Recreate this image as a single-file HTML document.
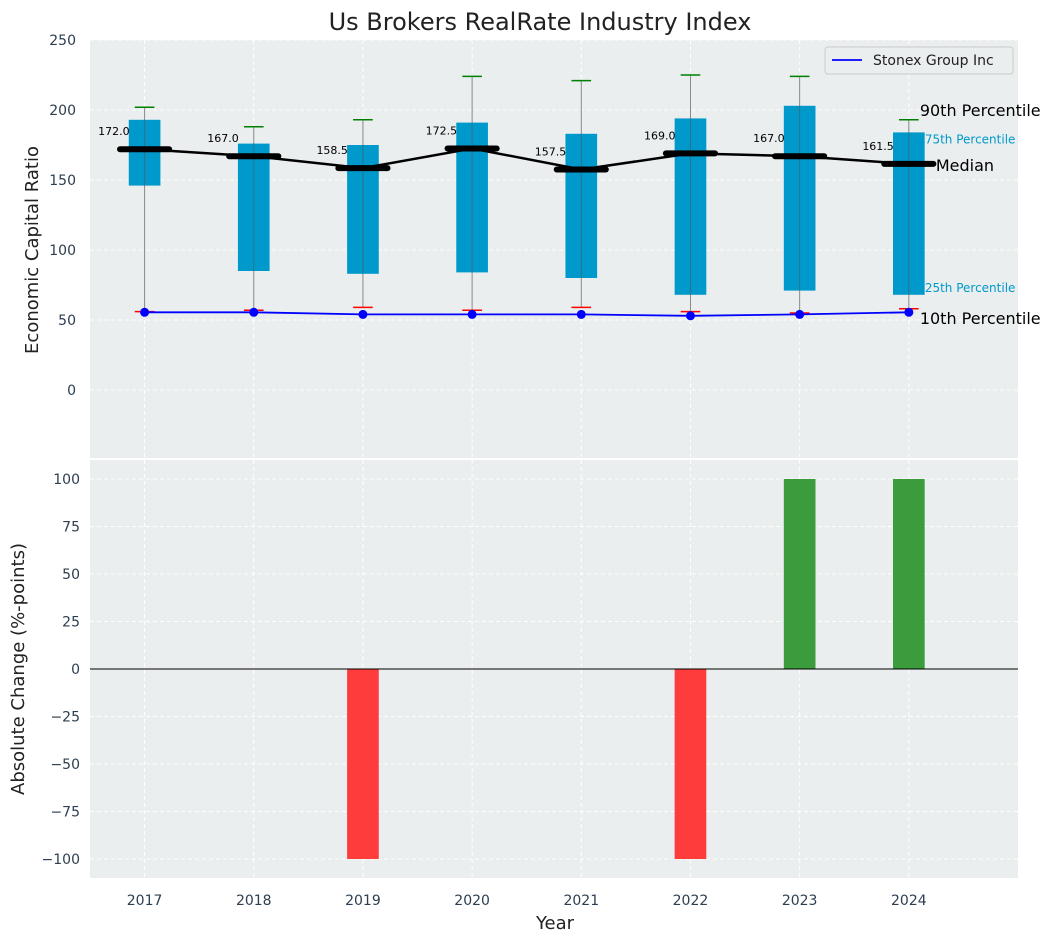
<!DOCTYPE html>
<html><head><meta charset="utf-8"><style>
body{margin:0;background:#fff;font-family:"Liberation Sans","DejaVu Sans",sans-serif}
</style></head><body>
<svg id="c" width="1057" height="942" xmlns="http://www.w3.org/2000/svg" font-family="DejaVu Sans, Liberation Sans, sans-serif">
<text x="540" y="30" font-size="24" text-anchor="middle" fill="#222">Us Brokers RealRate Industry Index</text>
<g id="topg"></g><g id="botg"></g>
</svg>
<script>
const years=[2017,2018,2019,2020,2021,2022,2023,2024];
const p25=[146,85,83,84,80,68,71,68];
const p75=[193,176,175,191,183,194,203,184];
const p90=[202,188,193,224,221,225,224,193];
const p10=[56,57,59,57,59,56,55,58];
const medians=[172,167,158.5,172.5,157.5,169,167,161.5];
const company=[55.5,55.5,54,54,54,53,54,55.5];
const changes=[0,0,-100,0,0,-100,100,100];
const topTicks=[0,50,100,150,200,250];
const botTicks=[-100,-75,-50,-25,0,25,50,75,100];

const NS="http://www.w3.org/2000/svg";
const X0=90,X1=1018;
const x=v=>X0+(v-2016.5)/(2025-2016.5)*(X1-X0);
const yT=v=>390-v*1.4;
const yB=v=>669-v*1.9;
function el(p,t,a,txt){const e=document.createElementNS(NS,t);for(const k in a)e.setAttribute(k,a[k]);if(txt!=null)e.textContent=txt;p.appendChild(e);return e;}
const fmt=v=>String(v).replace('-','\u2212');
const gTop=document.getElementById('topg'),gBot=document.getElementById('botg');
let r=el(gTop,'rect',{x:X0,y:40,width:X1-X0,height:418,fill:'#eaeeee'});


r=el(gBot,'rect',{x:X0,y:460,width:X1-X0,height:418,fill:'#eaeeee'});


years.forEach(yr=>{
 el(gTop,'line',{x1:x(yr),x2:x(yr),y1:40,y2:458,stroke:'#fff','stroke-dasharray':'4,3'});
 el(gBot,'line',{x1:x(yr),x2:x(yr),y1:460,y2:878,stroke:'#fff','stroke-dasharray':'4,3'});
 let t=el(gBot,'text',{x:x(yr),y:905,'font-size':14,'text-anchor':'middle',fill:'#2c3e50'},yr);
 
 
});
topTicks.forEach(v=>{
 el(gTop,'line',{x1:X0,x2:X1,y1:yT(v),y2:yT(v),stroke:'#fff','stroke-dasharray':'4,3'});
 let t=el(gTop,'text',{x:76,y:yT(v)+5,'font-size':14,'text-anchor':'end',fill:'#2c3e50'},fmt(v));
 
 
});
botTicks.forEach(v=>{
 el(gBot,'line',{x1:X0,x2:X1,y1:yB(v),y2:yB(v),stroke:'#fff','stroke-dasharray':'4,3'});
 let t=el(gBot,'text',{x:80,y:yB(v)+5,'font-size':14,'text-anchor':'end',fill:'#2c3e50'},fmt(v));
 
 
});
const bw=(X1-X0)/8.5*0.29, cw=(X1-X0)/8.5*0.18, mw=(X1-X0)/8.5*0.45;
years.forEach((yr,i)=>{
 const cx=x(yr);
 el(gTop,'line',{x1:cx,x2:cx,y1:yT(p90[i]),y2:yT(p10[i]),stroke:'#888','stroke-width':1});
 let b=el(gTop,'rect',{x:cx-bw/2,y:yT(p75[i]),width:bw,height:yT(p25[i])-yT(p75[i]),fill:'#0099cc'});
 
 
 el(gTop,'line',{x1:cx,x2:cx,y1:yT(p75[i]),y2:yT(p25[i]),stroke:'#555','stroke-width':1,opacity:0.6});
 el(gTop,'line',{x1:cx-cw/2,x2:cx+cw/2,y1:yT(p90[i]),y2:yT(p90[i]),stroke:'green','stroke-width':1.5});
 el(gTop,'line',{x1:cx-cw/2,x2:cx+cw/2,y1:yT(p10[i]),y2:yT(p10[i]),stroke:'red','stroke-width':1.5});
 let m=el(gTop,'line',{x1:cx-mw/2,x2:cx+mw/2,y1:yT(medians[i]),y2:yT(medians[i]),stroke:'#000','stroke-width':6,'stroke-linecap':'round'});
 
 
 let t=el(gTop,'text',{x:cx-15,y:yT(medians[i])-14,'font-size':11,'text-anchor':'end',fill:'#000'},medians[i].toFixed(1));
 
 
 let bar=el(gBot,'rect',{x:cx-bw/2,y:Math.min(yB(0),yB(changes[i])),width:bw,height:Math.abs(yB(changes[i])-yB(0)),fill:changes[i]>=0?'#3a9c3a':'#ff3c3c'});
 
 
});
let ml=el(gTop,'polyline',{points:years.map((yr,i)=>x(yr)+','+yT(medians[i])).join(' '),fill:'none',stroke:'#000','stroke-width':2.5});


let cl=el(gTop,'polyline',{points:years.map((yr,i)=>x(yr)+','+yT(company[i])).join(' '),fill:'none',stroke:'blue','stroke-width':1.8});


years.forEach((yr,i)=>{let c=el(gTop,'circle',{cx:x(yr),cy:yT(company[i]),r:4.5,fill:'blue'});
 
 });
el(gBot,'line',{x1:X0,x2:X1,y1:yB(0),y2:yB(0),stroke:'#000','stroke-width':1});
const L=x(2024)+11;
[['90th Percentile',yT(p90[7])-4,16,'#000',L],['75th Percentile',yT(p75[7])+11,12,'#0099cc',L+5],['Median',yT(medians[7])+7,16,'#000',L+16],['25th Percentile',yT(p25[7])-3,12,'#0099cc',L+5],['10th Percentile',yT(p10[7])+15,16,'#000',L]].forEach(a=>{
 let t=el(gTop,'text',{x:a[4],y:a[1],'font-size':a[2],fill:a[3]},a[0]);
 
 
});
let lg=el(gTop,'g',{});


el(lg,'rect',{x:825,y:47,width:188,height:27,fill:'#eaeeee',stroke:'#ccc',rx:3});
el(lg,'line',{x1:832,x2:862,y1:60,y2:60,stroke:'blue','stroke-width':1.8});
el(lg,'text',{x:873,y:65,'font-size':14,fill:'#222'},'Stonex Group Inc');
let a=el(gTop,'text',{x:38,y:250,'font-size':18,'text-anchor':'middle',fill:'#222',transform:'rotate(-90 38 250)'},'Economic Capital Ratio');


a=el(gBot,'text',{x:24,y:669,'font-size':18,'text-anchor':'middle',fill:'#222',transform:'rotate(-90 24 669)'},'Absolute Change (%-points)');


a=el(gBot,'text',{x:555,y:929,'font-size':18,'text-anchor':'middle',fill:'#222'},'Year');


</script>
</body></html>
